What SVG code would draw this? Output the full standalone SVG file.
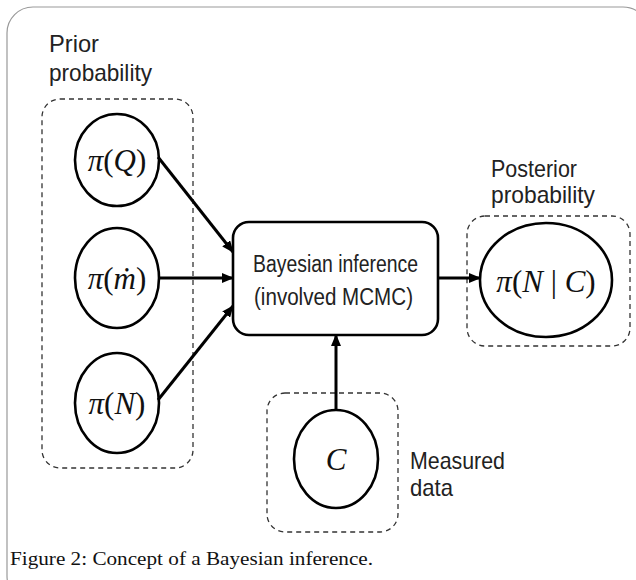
<svg xmlns="http://www.w3.org/2000/svg" width="636" height="580" viewBox="0 0 636 580">
<defs>
<style>
.lbl{font-family:"Liberation Sans",Arial,sans-serif;font-size:24px;fill:#222}
.box{font-family:"Liberation Sans",Arial,sans-serif;font-size:23px;fill:#222}
.math{font-family:"Liberation Serif","DejaVu Serif",serif;font-size:31px;fill:#111}
.it{font-style:italic}
.dash{fill:none;stroke:#333;stroke-width:1.3;stroke-dasharray:5,4}
.node{fill:#fff;stroke:#000;stroke-width:2.6}
.conn{stroke:#000;stroke-width:3;fill:none;marker-end:url(#ah)}
.cap{font-family:"Liberation Serif","Times New Roman",serif;font-size:19.5px;fill:#111}
</style>
<marker id="ah" viewBox="0 0 12 10" refX="11" refY="5" markerWidth="12" markerHeight="10" markerUnits="userSpaceOnUse" orient="auto">
<path d="M0,0 L12,5 L0,10 Z" fill="#000"/>
</marker>
</defs>
<rect x="0" y="0" width="636" height="580" fill="#fff"/>
<rect x="7" y="7" width="642" height="595" rx="26" fill="none" stroke="#999" stroke-width="1.2"/>

<g id="prior-group">
<text class="lbl" x="49" y="52" textLength="50" lengthAdjust="spacingAndGlyphs">Prior</text>
<text class="lbl" x="49" y="81" textLength="103" lengthAdjust="spacingAndGlyphs">probability</text>
<rect class="dash" x="42" y="99" width="151" height="369" rx="18"/>
</g>

<g id="piQ">
<ellipse class="node" cx="117" cy="160" rx="42" ry="46"/>
<text class="math" x="117" y="171" text-anchor="middle"><tspan class="it">π</tspan>(<tspan class="it">Q</tspan>)</text>
</g>
<g id="pim">
<ellipse class="node" cx="117" cy="278" rx="42" ry="50"/>
<text class="math" x="117" y="289" text-anchor="middle"><tspan class="it">π</tspan>(<tspan class="it">ṁ</tspan>)</text>
</g>
<g id="piN">
<ellipse class="node" cx="117" cy="403" rx="42" ry="50"/>
<text class="math" x="117" y="414" text-anchor="middle"><tspan class="it">π</tspan>(<tspan class="it">N</tspan>)</text>
</g>

<g id="bayes">
<rect class="node" x="233" y="222" width="205" height="113" rx="16"/>
<text class="box" x="253" y="272" textLength="165" lengthAdjust="spacingAndGlyphs">Bayesian inference</text>
<text class="box" x="254" y="305" textLength="159" lengthAdjust="spacingAndGlyphs">(involved MCMC)</text>
</g>

<g id="posterior">
<text class="lbl" x="491" y="177" textLength="86" lengthAdjust="spacingAndGlyphs">Posterior</text>
<text class="lbl" x="491" y="203" textLength="104" lengthAdjust="spacingAndGlyphs">probability</text>
<rect class="dash" x="467" y="216" width="163" height="130" rx="18"/>
<ellipse class="node" cx="546" cy="280" rx="66" ry="57"/>
<text class="math" x="546" y="292" text-anchor="middle"><tspan class="it">π</tspan>(<tspan class="it">N</tspan> | <tspan class="it">C</tspan>)</text>
</g>

<g id="measured">
<rect class="dash" x="267" y="393" width="131" height="139" rx="18"/>
<ellipse class="node" cx="336" cy="459" rx="42" ry="49"/>
<text class="math" x="336" y="470" text-anchor="middle"><tspan class="it">C</tspan></text>
<text class="lbl" x="410" y="469" textLength="95" lengthAdjust="spacingAndGlyphs">Measured</text>
<text class="lbl" x="410" y="496" textLength="43" lengthAdjust="spacingAndGlyphs">data</text>
</g>

<g id="connectors">
<line class="conn" x1="158" y1="157" x2="233" y2="252"/>
<line class="conn" x1="159" y1="278" x2="233" y2="278"/>
<line class="conn" x1="158" y1="400" x2="233" y2="306"/>
<line class="conn" x1="438" y1="278" x2="480" y2="278"/>
<line class="conn" x1="336" y1="410" x2="336" y2="335"/>
</g>

<text class="cap" x="10" y="565" textLength="363" lengthAdjust="spacingAndGlyphs">Figure 2: Concept of a Bayesian inference.</text>
</svg>
